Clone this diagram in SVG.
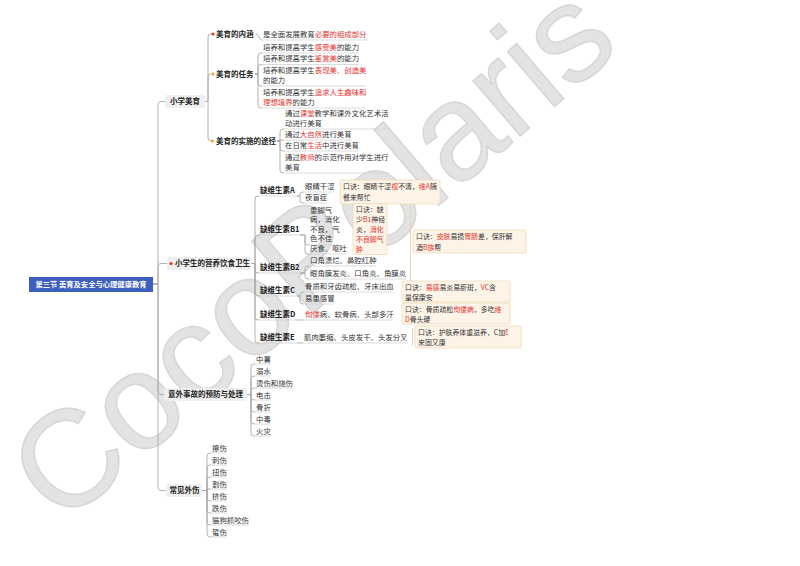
<svg xmlns="http://www.w3.org/2000/svg" width="800" height="566" viewBox="0 0 800 566">
<style>
.t{font-family:"Noto Sans CJK SC","Noto Sans",sans-serif;font-size:7.4px;fill:#333}
.b{font-weight:bold;font-size:7.5px;fill:#222}
.r{fill:#e5322d}
.m{font-size:6.9px}
.c{fill:none;stroke:#a9a9a9;stroke-width:0.9}
.u{stroke:#d2d2d2;stroke-width:0.8}
.bg{fill:#efefef}
.box{fill:#fdf4e7;stroke:#ecd6b2;stroke-width:0.7}
.sum{fill:none;stroke:#e6d2ad;stroke-width:0.9}
</style>
<rect width="800" height="566" fill="#fff"/>
<g id="watermark">
<text x="0" y="0" transform="translate(342,288) rotate(-40.5)" text-anchor="middle" font-family="Liberation Sans, sans-serif" font-size="137" fill="#e3e3e3" stroke="#d6d6d6" stroke-width="1.5">CocoPolaris</text>
</g>
<g id="connectors" class="c">
<path d="M153,284H158V104.5Q158,101.5 161,101.5H165"/>
<path d="M153,284H158V266.5Q158,263.5 161,263.5H167"/>
<path d="M153,284H158V391.5Q158,394.5 161,394.5H164"/>
<path d="M153,284H158V487.5Q158,490.5 161,490.5H166"/>
<path d="M205,101.5H208V37Q208,34 211,34"/>
<path d="M205,101.5H208V77Q208,74 211,74"/>
<path d="M205,101.5H208V138Q208,141 211,141"/>
<path d="M256,34C259,34 259,40 262,40"/>
<path d="M255,74H258V56Q258,53 261,53H262"/>
<path d="M255,74H258V67.5Q258,64.5 261,64.5H262"/>
<path d="M255,74H258V83Q258,86 261,86H262"/>
<path d="M255,74H258V105Q258,108 261,108H262"/>
<path d="M277,141H280V132Q280,129 283,129H284"/>
<path d="M277,141H280V140H284"/>
<path d="M277,141H280V148Q280,151 283,151H284"/>
<path d="M277,141H280V170Q280,173 283,173H284"/>
<path d="M251,263.5H255V199Q255,196 258,196H259"/>
<path d="M251,263.5H255V238Q255,235 258,235H259"/>
<path d="M251,263.5H255V270Q255,273 258,273H259"/>
<path d="M251,263.5H255V293Q255,296 258,296H259"/>
<path d="M251,263.5H255V317Q255,320 258,320H259"/>
<path d="M251,263.5H255V340Q255,343 258,343H259"/>
<path d="M297,196H300V195Q300,192 303,192H304"/>
<path d="M297,196H300V200Q300,203 303,203H304"/>
<path d="M300,235H305V242Q305,245 308,245H309"/>
<path d="M300,235H305V251Q305,254 308,254H309"/>
<path d="M300,273H305V269Q305,266 308,266H309"/>
<path d="M300,273H305V276Q305,279 308,279H309"/>
<path d="M297,296H300V295Q300,292 303,292H304"/>
<path d="M297,296H300V301Q300,304 303,304H304"/>
<path d="M297,320H304"/>
<path d="M297,343H303"/>
<path d="M247,394.5H251V367Q251,364 254,364H255"/>
<path d="M247,394.5H251V379Q251,376 254,376H255"/>
<path d="M247,394.5H251V391Q251,388 254,388H255"/>
<path d="M247,394.5H251V397Q251,400 254,400H255"/>
<path d="M247,394.5H251V409Q251,412 254,412H255"/>
<path d="M247,394.5H251V421Q251,424 254,424H255"/>
<path d="M247,394.5H251V433Q251,436 254,436H255"/>
<path d="M202,490.5H207V456Q207,453 210,453H211"/>
<path d="M202,490.5H207V468Q207,465 210,465H211"/>
<path d="M202,490.5H207V480Q207,477 210,477H211"/>
<path d="M202,490.5H207V489H211"/>
<path d="M202,490.5H207V498Q207,501 210,501H211"/>
<path d="M202,490.5H207V510Q207,513 210,513H211"/>
<path d="M202,490.5H207V522Q207,525 210,525H211"/>
<path d="M202,490.5H207V534Q207,537 210,537H211"/>
<path class="sum" d="M410.5,205V281"/>
<path class="sum" d="M412.5,328V346"/>
</g>
<g id="root">
<rect x="29" y="277" width="124" height="15" fill="#3e5ebe"/>
<text class="t b" x="91" y="286.8" text-anchor="middle" style="fill:#fff;font-size:7.3px">第三节 美育及安全与心理健康教育</text>
</g>
<g id="n-xxmy">
<rect class="bg" x="165" y="95" width="40" height="13" rx="2"/>
<text class="t b" x="170" y="104.2">小学美育</text>
</g>
<g id="n-myneihan">
<circle cx="213" cy="34" r="1.6" fill="#e5322d"/>
<text class="t b" x="216" y="36.7">美育的内涵</text>
</g>
<g id="l-neihan">
<text class="t" x="263" y="36.7">是全面发展教育<tspan class="r">必要的组成部分</tspan></text>
<line class="u" x1="262" y1="40" x2="367" y2="40"/>
</g>
<g id="n-renwu">
<circle cx="213" cy="74" r="1.6" fill="#f5a623"/>
<text class="t b" x="216" y="76.7">美育的任务</text>
</g>
<g id="l-rw1">
<text class="t" x="263" y="49.7">培养和提高学生<tspan class="r">感受美</tspan>的能力</text>
<line class="u" x1="262" y1="53" x2="359" y2="53"/>
</g>
<g id="l-rw2">
<text class="t" x="263" y="61.2">培养和提高学生<tspan class="r">鉴赏美</tspan>的能力</text>
<line class="u" x1="262" y1="64.5" x2="359" y2="64.5"/>
</g>
<g id="l-rw3">
<text class="t" x="263" y="72.7">培养和提高学生<tspan class="r">表现美、创造美</tspan></text>
<text class="t" x="263" y="82.7">的能力</text>
<line class="u" x1="262" y1="86" x2="366" y2="86"/>
</g>
<g id="l-rw4">
<text class="t" x="263" y="94.7">培养和提高学生<tspan class="r">追求人生趣味和</tspan></text>
<text class="t" x="263" y="104.7"><tspan class="r">理想境界</tspan>的能力</text>
<line class="u" x1="262" y1="108" x2="366" y2="108"/>
</g>
<g id="n-tujing">
<circle cx="212.5" cy="141" r="1.6" fill="#f5a623"/>
<text class="t b" x="216" y="143.7">美育的实施的途径</text>
</g>
<g id="l-tj1">
<text class="t" x="285" y="115.7">通过<tspan class="r">课堂</tspan>教学和课外文化艺术活</text>
<text class="t" x="285" y="125.7">动进行美育</text>
<line class="u" x1="284" y1="129" x2="389" y2="129"/>
</g>
<g id="l-tj2">
<text class="t" x="285" y="136.7">通过<tspan class="r">大自然</tspan>进行美育</text>
<line class="u" x1="284" y1="140" x2="352" y2="140"/>
</g>
<g id="l-tj3">
<text class="t" x="285" y="147.7">在日常<tspan class="r">生活</tspan>中进行美育</text>
<line class="u" x1="284" y1="151" x2="359" y2="151"/>
</g>
<g id="l-tj4">
<text class="t" x="285" y="159.7">通过<tspan class="r">教师</tspan>的示范作用对学生进行</text>
<text class="t" x="285" y="169.7">美育</text>
<line class="u" x1="284" y1="173" x2="389" y2="173"/>
</g>
<g id="n-yingyang">
<rect class="bg" x="167" y="257" width="84" height="13" rx="2"/>
<circle cx="171" cy="263.5" r="1.6" fill="#e5322d"/>
<text class="t b" x="175" y="266.2">小学生的营养饮食卫生</text>
</g>
<g id="n-va">
<text class="t b" x="260" y="192.7">缺维生素A</text>
<line class="u" x1="259" y1="196" x2="297" y2="196"/>
</g>
<g id="l-va1"><text class="t" x="305" y="188.7">眼睛干涩</text><line class="u" x1="304" y1="192" x2="334" y2="192"/></g>
<g id="l-va2"><text class="t" x="305" y="199.7">夜盲症</text><line class="u" x1="304" y1="203" x2="327" y2="203"/></g>
<g id="m-va">
<rect class="box" x="340" y="180" width="100" height="24" rx="1"/>
<text class="t m" x="343" y="189">口诀：眼睛干涩<tspan class="r">视</tspan>不清，<tspan class="r">维A</tspan>随</text>
<text class="t m" x="343" y="199.5">餐来帮忙</text>
</g>
<g id="n-vb1">
<text class="t b" x="260" y="231.7">缺维生素B1</text>
<line class="u" x1="259" y1="235" x2="300" y2="235"/>
</g>
<g id="l-vb11">
<text class="t" x="310" y="212.7">患脚气</text>
<text class="t" x="310" y="222.2">病，消化</text>
<text class="t" x="310" y="231.7">不良，气</text>
<text class="t" x="310" y="241.2">色不佳</text>
<line class="u" x1="309" y1="245" x2="340" y2="245"/>
</g>
<g id="l-vb12"><text class="t" x="310" y="250.7">厌食、呕吐</text><line class="u" x1="309" y1="254" x2="346" y2="254"/></g>
<g id="m-vb1">
<rect class="box" x="353" y="203.5" width="34" height="51" rx="1"/>
<text class="t m" x="356" y="212">口诀：缺</text>
<text class="t m" x="356" y="222">少<tspan class="r">B1</tspan>神经</text>
<text class="t m" x="356" y="232">炎，<tspan class="r">消化</tspan></text>
<text class="t m" x="356" y="242"><tspan class="r">不良脚气</tspan></text>
<text class="t m" x="356" y="252"><tspan class="r">肿</tspan></text>
</g>
<g id="n-vb2">
<text class="t b" x="260" y="269.7">缺维生素B2</text>
<line class="u" x1="259" y1="273" x2="300" y2="273"/>
</g>
<g id="l-vb21"><text class="t" x="310" y="263">口角溃烂、鼻腔红肿</text><line class="u" x1="309" y1="266" x2="376" y2="266"/></g>
<g id="l-vb22"><text class="t" x="310" y="275.7">眼角膜发炎、口角炎、角膜炎</text><line class="u" x1="309" y1="279" x2="406" y2="279"/></g>
<g id="m-vb">
<rect class="box" x="413" y="230" width="113" height="23" rx="1"/>
<text class="t m" x="416" y="239">口诀：<tspan class="r">皮肤</tspan>易损<tspan class="r">胃肠</tspan>差，保肝解</text>
<text class="t m" x="416" y="249.5">酒<tspan class="r">B族</tspan>帮</text>
</g>
<g id="n-vc">
<text class="t b" x="260" y="292.7">缺维生素C</text>
<line class="u" x1="259" y1="296" x2="297" y2="296"/>
</g>
<g id="l-vc1"><text class="t" x="305" y="288.7">骨质和牙齿疏松、牙床出血</text><line class="u" x1="304" y1="292" x2="393" y2="292"/></g>
<g id="l-vc2"><text class="t" x="305" y="300.7">易患感冒</text><line class="u" x1="304" y1="304" x2="334" y2="304"/></g>
<g id="m-vc">
<rect class="box" x="402" y="281" width="108" height="21" rx="1"/>
<text class="t m" x="405" y="289.5">口诀：<tspan class="r">易感</tspan>易炎易瘀斑，<tspan class="r">VC</tspan>含</text>
<text class="t m" x="405" y="300">量保康安</text>
</g>
<g id="n-vd">
<text class="t b" x="260" y="316.7">缺维生素D</text>
<line class="u" x1="259" y1="320" x2="297" y2="320"/>
</g>
<g id="l-vd1"><text class="t" x="305" y="316.7"><tspan class="r">佝偻</tspan>病、软骨病、头部多汗</text><line class="u" x1="304" y1="320" x2="393" y2="320"/></g>
<g id="m-vd">
<rect class="box" x="402" y="303" width="108" height="21" rx="1"/>
<text class="t m" x="405" y="311.5">口诀：骨质疏松<tspan class="r">佝偻病</tspan>，多吃<tspan class="r">维</tspan></text>
<text class="t m" x="405" y="322"><tspan class="r">D</tspan>骨头硬</text>
</g>
<g id="n-ve">
<text class="t b" x="260" y="339.7">缺维生素E</text>
<line class="u" x1="259" y1="343" x2="297" y2="343"/>
</g>
<g id="l-ve1"><text class="t" x="304" y="339.7">肌肉萎缩、头皮发干、头发分叉</text><line class="u" x1="303" y1="343" x2="408" y2="343"/></g>
<g id="m-ve">
<rect class="box" x="415" y="326" width="106" height="22" rx="1"/>
<text class="t m" x="418" y="334.5">口诀：护肤养体重滋养，C加<tspan class="r">E</tspan></text>
<text class="t m" x="418" y="345">来固又康</text>
</g>
<g id="n-yiwai">
<rect class="bg" x="164" y="388" width="83" height="13" rx="2"/>
<text class="t b" x="168" y="397.2">意外事故的预防与处理</text>
</g>
<g id="l-yw1"><text class="t" x="256" y="361.7">中暑</text><line class="u" x1="255" y1="364" x2="271" y2="364"/></g>
<g id="l-yw2"><text class="t" x="256" y="373.7">溺水</text><line class="u" x1="255" y1="376" x2="271" y2="376"/></g>
<g id="l-yw3"><text class="t" x="256" y="385.7">烫伤和烧伤</text><line class="u" x1="255" y1="388" x2="293" y2="388"/></g>
<g id="l-yw4"><text class="t" x="256" y="397.7">电击</text><line class="u" x1="255" y1="400" x2="271" y2="400"/></g>
<g id="l-yw5"><text class="t" x="256" y="409.7">骨折</text><line class="u" x1="255" y1="412" x2="271" y2="412"/></g>
<g id="l-yw6"><text class="t" x="256" y="421.7">中毒</text><line class="u" x1="255" y1="424" x2="271" y2="424"/></g>
<g id="l-yw7"><text class="t" x="256" y="433.7">火灾</text><line class="u" x1="255" y1="436" x2="271" y2="436"/></g>
<g id="n-waishang">
<rect class="bg" x="166" y="484" width="36" height="13" rx="2"/>
<text class="t b" x="169.5" y="493.2">常见外伤</text>
</g>
<g id="l-ws1"><text class="t" x="212" y="450.7">擦伤</text><line class="u" x1="211" y1="453" x2="227" y2="453"/></g>
<g id="l-ws2"><text class="t" x="212" y="462.7">刺伤</text><line class="u" x1="211" y1="465" x2="227" y2="465"/></g>
<g id="l-ws3"><text class="t" x="212" y="474.7">扭伤</text><line class="u" x1="211" y1="477" x2="227" y2="477"/></g>
<g id="l-ws4"><text class="t" x="212" y="486.7">割伤</text><line class="u" x1="211" y1="489" x2="227" y2="489"/></g>
<g id="l-ws5"><text class="t" x="212" y="498.7">挤伤</text><line class="u" x1="211" y1="501" x2="227" y2="501"/></g>
<g id="l-ws6"><text class="t" x="212" y="510.7">跌伤</text><line class="u" x1="211" y1="513" x2="227" y2="513"/></g>
<g id="l-ws7"><text class="t" x="212" y="522.7">猫狗抓咬伤</text><line class="u" x1="211" y1="525" x2="249" y2="525"/></g>
<g id="l-ws8"><text class="t" x="212" y="534.7">蜇伤</text><line class="u" x1="211" y1="537" x2="227" y2="537"/></g>
</svg>
